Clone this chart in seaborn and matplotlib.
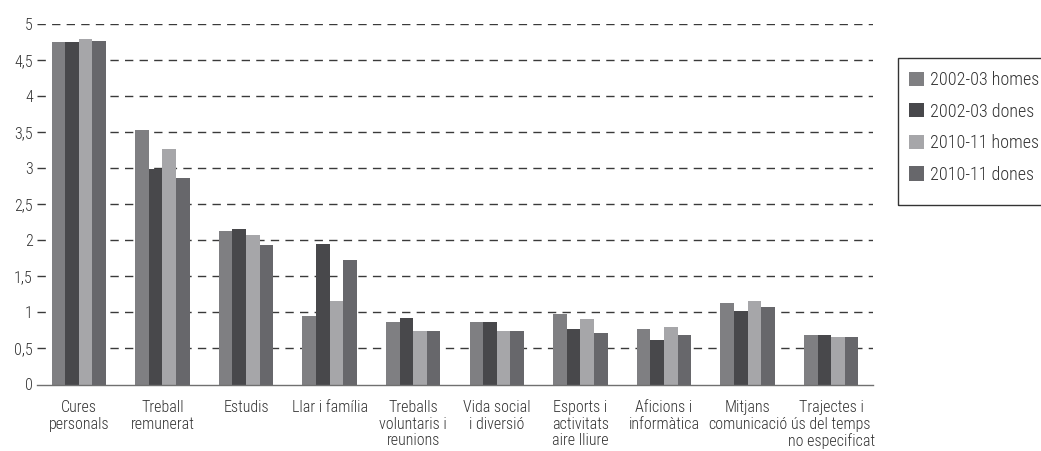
import matplotlib
matplotlib.use("Agg")
import matplotlib.pyplot as plt
import seaborn as sns
import pandas as pd
import numpy as np
from matplotlib.ticker import FixedLocator
from matplotlib.patches import Rectangle

categories = ["Cures\npersonals", "Treball\nremunerat", "Estudis", "Llar i família",
              "Treballs\nvoluntaris i\nreunions", "Vida social\ni diversió",
              "Esports i\nactivitats\naire lliure", "Aficions i\ninformàtica",
              "Mitjans\ncomunicació", "Trajectes i\nús del temps\nno especificat"]
series = ["2002-03 homes", "2002-03 dones", "2010-11 homes", "2010-11 dones"]
h0203 = [4.75, 3.53, 2.13, 0.95, 0.87, 0.87, 0.98, 0.77, 1.13, 0.69]
d0203 = [4.75, 2.99, 2.15, 1.95, 0.92, 0.87, 0.77, 0.62, 1.02, 0.69]
h1011 = [4.79, 3.27, 2.08, 1.16, 0.74, 0.74, 0.91, 0.80, 1.16, 0.66]
d1011 = [4.77, 2.87, 1.94, 1.73, 0.74, 0.74, 0.72, 0.69, 1.08, 0.66]
yticks = [0, 0.5, 1, 1.5, 2, 2.5, 3, 3.5, 4, 4.5, 5]
ytick_labels = ["0", "0,5", "1", "1,5", "2", "2,5", "3", "3,5", "4", "4,5", "5"]

colors = ["#7f7f82", "#48484b", "#a6a6a9", "#67676b"]

rows = []
for s, vals in zip(series, [h0203, d0203, h1011, d1011]):
    for c, v in zip(categories, vals):
        rows.append({"cat": c, "serie": s, "val": v})
df = pd.DataFrame(rows)

sns.set_style("white")
plt.rcParams['font.family'] = ['Roboto Condensed', 'DejaVu Sans']
plt.rcParams['font.weight'] = 'light'
text_color = "#333333"
fs = 11.5

W, H = 1041, 451
fig = plt.figure(figsize=(W/100, H/100), dpi=100)
ax = fig.add_axes([37/W, 1-384.5/H, (873-37)/W, (384.5-24)/H])

sns.barplot(data=df, x="cat", y="val", hue="serie", order=categories,
            hue_order=series, palette=colors, width=0.65, saturation=1,
            linewidth=0, ax=ax, legend=True)

ax.set_ylim(0, 5)
ax.set_xlim(-0.5, len(categories) - 0.5)
ax.set_yticks(yticks)
ax.set_yticklabels(ytick_labels)
for y in yticks[1:]:
    ax.axhline(y, color="#3a3a3a", linewidth=1.0, linestyle=(0, (6, 4.5)), zorder=0)
ax.set_axisbelow(True)
ax.grid(False)

for sp in ["top", "right", "left"]:
    ax.spines[sp].set_visible(False)
ax.spines["bottom"].set_color("#707070")
ax.spines["bottom"].set_linewidth(1.0)

ax.xaxis.set_minor_locator(FixedLocator(np.arange(-0.5, len(categories), 1.0)))
ax.tick_params(axis="x", which="minor", length=6, width=1, color="#505050", direction="out")
ax.tick_params(axis="x", which="major", length=0, pad=11, labelsize=fs, labelcolor=text_color)
ax.tick_params(axis="y", length=0, pad=3, labelsize=fs, labelcolor=text_color)
for lbl in ax.get_xticklabels():
    lbl.set_linespacing(1.15)
ax.set_xlabel("")
ax.set_ylabel("")

handles, labels = ax.get_legend_handles_labels()
ax.get_legend().remove()
leg = fig.legend(handles, labels, loc="upper left",
                 bbox_to_anchor=(909/W, 1-71/H), frameon=False,
                 fontsize=13, labelspacing=0.75,
                 handlelength=0.85, handleheight=0.85, handletextpad=0.3,
                 borderpad=0.0, borderaxespad=0)
for t in leg.get_texts():
    t.set_color(text_color)
fig.patches.append(Rectangle((898/W, 1-205/H), (1060-898)/W, (205-58)/H,
                             transform=fig.transFigure, fill=False,
                             edgecolor="#333333", linewidth=1.0))

fig.savefig("out.png", dpi=100)
